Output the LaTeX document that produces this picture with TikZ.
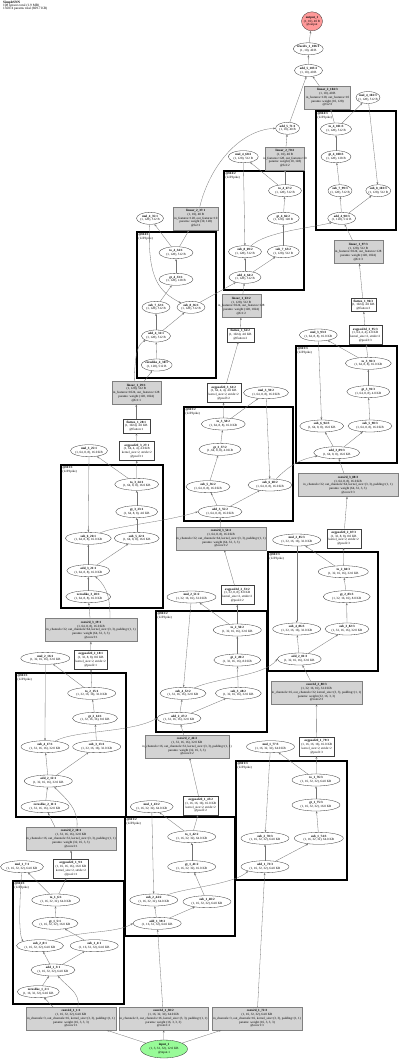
\documentclass[tikz,border=0pt]{standalone}
\usepackage{fontspec}
\setmainfont{Liberation Serif}
\usetikzlibrary{shapes.geometric,arrows.meta}
\definecolor{boxgray}{RGB}{211,211,211}
\definecolor{outred}{RGB}{255,153,153}
\definecolor{ingreen}{RGB}{152,251,152}
\newcommand\Z[1]{\makebox[0pt]{#1}}
\newcommand\nf{\fontsize{3.2}{3.8}\selectfont}
\newcommand\Sa{(1, 16, 32, 32), 64.0 KB}
\newcommand\Sab{(1, 16, 32, 32), 16.0 KB}
\newcommand\Sb{(1, 32, 16, 16), 32.0 KB}
\newcommand\Sbb{(1, 32, 16, 16), 8.0 KB}
\newcommand\Sc{(1, 64, 8, 8), 16.0 KB}
\newcommand\Scb{(1, 64, 8, 8), 4.0 KB}
\newcommand\Sd{(1, 128), 512 B}
\newcommand\Sdb{(1, 128), 128 B}
\newcommand\So{(1, 10), 40 B}
\newcommand\EN[6]{\node[ell,minimum width=#4pt] (#1) at (#2,#3) {\Z{\textbf{#5}}\\\Z{#6}};}
\newcommand\CL[5]{\draw[clus] (#1,#2) rectangle (#3,#4);
  \node[anchor=north west,font=\nf,align=left,inner sep=0pt] at (#1+1.5,#2+1.3) {\textbf{#5}\\(LIFSpike)};}
\newcommand\PB[6]{\node[wbox,minimum width=#4pt,minimum height=19pt] (#1) at (#2,#3) {\Z{\textbf{#5}}\\\Z{#6}\\\Z{kernel\_size=2, stride=2}\\\Z{@pool\csname pn#1\endcsname}};}
\newcommand\CB[9]{\node[gbox,minimum width=#4pt,minimum height=23pt] (#1) at (#2,#3) {\Z{\textbf{#5}}\\\Z{#6}\\\Z{#7}\\\Z{#8}\\\Z{#9}};}
\tikzset{
 ell/.style={ellipse, draw=black!80, line width=0.3pt, inner sep=0pt, minimum height=12pt, align=center, font=\nf},
 gbox/.style={rectangle, draw=black!50, line width=0.3pt, fill=boxgray, inner sep=0pt, align=center, font=\nf},
 wbox/.style={rectangle, draw=black!75, line width=0.3pt, inner sep=0pt, align=center, font=\nf},
 clus/.style={draw=black, line width=1.6pt},
 e/.style={draw=black!55, line width=0.3pt, -{Stealth[length=2.4pt,width=1.8pt]}},
}
\begin{document}
\begin{tikzpicture}[x=1pt,y=-1pt]
\useasboundingbox (0,0) rectangle (400,1061);
\fill[white] (0,0) rectangle (400,1061);
\node[anchor=north west,font=\fontsize{3.4}{3.2}\selectfont,align=left,inner sep=0pt] (hdr) at (3,1) {\textbf{SimpleSNN}\\108 tensors total (1.9 MB)\\156074 params total (609.7 KB)};
% clusters
\CL{316}{111}{396}{230}{@lif4:3}
\CL{224}{171}{304}{290}{@lif4:2}
\CL{137}{232}{216}{378}{@lif4:1}
\CL{296}{346}{397}{463}{@lif3:3}
\CL{184}{407}{293}{521}{@lif3:2}
\CL{61}{465}{163}{608}{@lif3:1}
\CL{268}{552}{378}{671}{@lif2:3}
\CL{156}{611}{267}{732}{@lif2:2}
\CL{16}{673}{126}{817}{@lif2:1}
\CL{236}{761}{347}{880}{@lif1:3}
\CL{125}{817}{235}{936}{@lif1:2}
\CL{13}{881}{124}{1004}{@lif1:1}
% input / output
\node[ell,fill=ingreen,minimum width=47pt,minimum height=18pt] (inp) at (164,1049) {\Z{\textbf{input\_1}}\\\Z{(1, 3, 32, 32), 12.0 KB}\\\Z{@input.1}};
\node[ell,fill=outred,minimum width=21pt,minimum height=19pt] (out) at (312,21.3) {\Z{\textbf{output\_1}}\\\Z{\So}\\\Z{@output}};
% ---- timestep 1
\CB{c11}{71}{1018.5}{90}{conv2d\_1\_1:1}{\Sa}{in\_channels=3, out\_channels=16, kernel\_size=(3, 3), padding=(1, 1)}{params: weight (16, 3, 3, 3)}{@conv1:1}
\CB{c138}{163.5}{1018.5}{89}{conv2d\_1\_38:2}{\Sa}{in\_channels=3, out\_channels=16, kernel\_size=(3, 3), padding=(1, 1)}{params: weight (16, 3, 3, 3)}{@conv1:2}
\CB{c172}{257}{1018.5}{90}{conv2d\_1\_72:3}{\Sa}{in\_channels=3, out\_channels=16, kernel\_size=(3, 3), padding=(1, 1)}{params: weight (16, 3, 3, 3)}{@conv1:3}
\EN{zl12}{38.3}{991.7}{42}{zeroslike\_1\_2:1}{\Sa}
\EN{a13}{53}{970}{44}{add\_1\_3:1}{\Sa}
\EN{s28}{40}{945.7}{47}{sub\_2\_8:1}{\Sa}
\EN{s14}{94.2}{945.7}{48}{sub\_1\_4:1}{\Sa}
\EN{g15}{55}{923.3}{46}{gt\_1\_5:1}{\Sab}
\EN{t16}{55.8}{900}{48}{to\_1\_6:1}{\Sa}
\EN{m17}{22}{866.7}{43}{mul\_1\_7:1}{\Sa}
\expandafter\def\csname pnp19\endcsname{1:1}
\PB{p19}{71}{868.7}{35}{avgpool2d\_1\_9:1}{(1, 16, 16, 16), 16.0 KB}
\CB{c210}{71}{838.7}{90}{conv2d\_2\_10:1}{\Sb}{in\_channels=16, out\_channels=32, kernel\_size=(3, 3), padding=(1, 1)}{params: weight (32, 16, 3, 3)}{@conv2:1}
\EN{zl211}{45}{806.7}{48}{zeroslike\_2\_11:1}{\Sb}
\EN{a212}{48.3}{781}{48}{add\_2\_12:1}{\Sb}
\EN{s417}{45}{746.7}{48}{sub\_4\_17:1}{\Sb}
\EN{s313}{96.7}{746.7}{48}{sub\_3\_13:1}{\Sb}
\EN{g214}{95}{718.3}{45}{gt\_2\_14:1}{\Sbb}
\EN{t215}{91.7}{693.3}{48}{to\_2\_15:1}{\Sb}
\EN{m216}{45.3}{658.3}{49}{mul\_2\_16:1}{\Sb}
\expandafter\def\csname pnp218\endcsname{2:1}
\PB{p218}{90.7}{659.7}{33}{avgpool2d\_2\_18:1}{(1, 32, 8, 8), 8.0 KB}
\CB{c319}{91}{630}{92}{conv2d\_3\_19:1}{\Sc}{in\_channels=32, out\_channels=64, kernel\_size=(3, 3), padding=(1, 1)}{params: weight (64, 32, 3, 3)}{@conv3:1}
\EN{zl320}{88.3}{596.7}{45}{zeroslike\_3\_20:1}{\Sc}
\EN{a321}{88.3}{570.7}{43}{add\_3\_21:1}{\Sc}
\EN{s626}{88.3}{538.3}{46}{sub\_6\_26:1}{\Sc}
\EN{s522}{136.7}{538.3}{45}{sub\_5\_22:1}{\Sc}
\EN{g323}{136.7}{511.7}{42}{gt\_3\_23:1}{\Scb}
\EN{t324}{136.7}{484.3}{44}{to\_3\_24:1}{\Sc}
\EN{m325}{89}{450.7}{37}{mul\_3\_25:1}{\Sc}
\expandafter\def\csname pnp327\endcsname{3:1}
\PB{p327}{136.8}{451}{35}{avgpool2d\_3\_27:1}{(1, 64, 4, 4), 4.0 KB}
\node[wbox,minimum width=27pt,minimum height=14pt] (f128) at (136.3,426) {\Z{\textbf{flatten\_1\_28:1}}\\\Z{(1, 1024), 4.0 KB}\\\Z{@flatten:1}};
\CB{l129}{136.3}{392.8}{49}{linear\_1\_29:1}{\Sd}{in\_features=1024, out\_features=128}{params: weight (128, 1024)}{@fc1:1}
\EN{zl430}{156.7}{365}{31}{zeroslike\_4\_30:1}{\Sd}
\EN{a431}{156}{336}{29}{add\_4\_31:1}{\Sd}
\EN{s732}{156}{307.3}{28}{sub\_7\_32:1}{\Sd}
\EN{s836}{191}{307.3}{28}{sub\_8\_36:1}{\Sd}
\EN{g433}{176}{279.3}{34}{gt\_4\_33:1}{\Sdb}
\EN{t434}{176}{252.7}{34}{to\_4\_34:1}{\Sd}
\EN{m435}{150}{218.3}{27}{mul\_4\_35:1}{\Sd}
\CB{l237}{195.8}{218.3}{45}{linear\_2\_37:1}{\So}{in\_features=128, out\_features=10}{params: weight (10, 128)}{@fc2:1}
% ---- timestep 2
\EN{a139}{157.2}{923.3}{48}{add\_1\_39:2}{\Sa}
\EN{s244}{153.8}{900}{48}{sub\_2\_44:2}{\Sa}
\EN{s140}{207}{901.7}{48}{sub\_1\_40:2}{\Sa}
\EN{g141}{191.7}{866.7}{48}{gt\_1\_41:2}{\Sab}
\EN{t142}{191.7}{836.7}{48}{to\_1\_42:2}{\Sa}
\EN{m143}{151.7}{806.7}{43}{mul\_1\_43:2}{\Sa}
\expandafter\def\csname pnp145\endcsname{1:2}
\PB{p145}{200.7}{805.5}{35}{avgpool2d\_1\_45:2}{(1, 16, 16, 16), 16.0 KB}
\CB{c246}{187}{746.5}{84}{conv2d\_2\_46:2}{\Sb}{in\_channels=16, out\_channels=32, kernel\_size=(3, 3), padding=(1, 1)}{params: weight (32, 16, 3, 3)}{@conv2:2}
\EN{a247}{179}{718.3}{44}{add\_2\_47:2}{\Sb}
\EN{s452}{183}{693.3}{46}{sub\_4\_52:2}{\Sb}
\EN{s348}{238.3}{693.3}{46}{sub\_3\_48:2}{\Sb}
\EN{g249}{237.3}{660}{47}{gt\_2\_49:2}{\Sbb}
\EN{t250}{237.3}{630}{48}{to\_2\_50:2}{\Sb}
\EN{m251}{191.5}{597}{49}{mul\_2\_51:2}{\Sb}
\expandafter\def\csname pnp253\endcsname{2:2}
\PB{p253}{237.3}{595}{33}{avgpool2d\_2\_53:2}{(1, 32, 8, 8), 8.0 KB}
\CB{c354}{221}{538.5}{90}{conv2d\_3\_54:2}{\Sc}{in\_channels=32, out\_channels=64, kernel\_size=(3, 3), padding=(1, 1)}{params: weight (64, 32, 3, 3)}{@conv3:2}
\EN{a355}{220}{511.7}{44}{add\_3\_55:2}{\Sc}
\EN{s556}{208}{486.7}{44}{sub\_5\_56:2}{\Sc}
\EN{s660}{270}{485}{44}{sub\_6\_60:2}{\Sc}
\EN{g357}{220}{449.3}{42}{gt\_3\_57:2}{\Scb}
\EN{t358}{223.3}{424}{44}{to\_3\_58:2}{\Sc}
\EN{m359}{266}{392.7}{45}{mul\_3\_59:2}{\Sc}
\expandafter\def\csname pnp361\endcsname{3:2}
\PB{p361}{223.7}{393}{34}{avgpool2d\_3\_61:2}{(1, 64, 4, 4), 4.0 KB}
\node[wbox,minimum width=27pt,minimum height=14pt] (f162) at (240.3,334.7) {\Z{\textbf{flatten\_1\_62:2}}\\\Z{(1, 1024), 4.0 KB}\\\Z{@flatten:2}};
\CB{l163}{241.3}{306}{39}{linear\_1\_63:2}{\Sd}{in\_features=1024, out\_features=128}{params: weight (128, 1024)}{@fc1:2}
\EN{a464}{245}{277.3}{32}{add\_4\_64:2}{\Sd}
\EN{s869}{245}{251.7}{33}{sub\_8\_69:2}{\Sd}
\EN{s765}{283.3}{251.7}{32}{sub\_7\_65:2}{\Sd}
\EN{g466}{283.3}{218.3}{32}{gt\_4\_66:2}{\Sdb}
\EN{t467}{285}{190.7}{33}{to\_4\_67:2}{\Sd}
\EN{m468}{243.3}{156.7}{30}{mul\_4\_68:2}{\Sd}
\CB{l270}{285}{158.3}{39}{linear\_2\_70:2}{\So}{in\_features=128, out\_features=10}{params: weight (10, 128)}{@fc2:2}
\EN{a571}{287.6}{128.3}{24}{add\_5\_71:1}{\So}
% ---- timestep 3
\EN{a173}{265}{866.7}{48}{add\_1\_73:3}{\Sa}
\EN{s278}{265}{838.3}{48}{sub\_2\_78:3}{\Sa}
\EN{s174}{318.8}{838.3}{49}{sub\_1\_74:3}{\Sa}
\EN{g175}{316}{805}{48}{gt\_1\_75:3}{\Sab}
\EN{t176}{316}{780}{48}{to\_1\_76:3}{\Sa}
\EN{m177}{270.5}{746.7}{48}{mul\_1\_77:3}{\Sa}
\expandafter\def\csname pnp179\endcsname{1:3}
\PB{p179}{316.7}{746.7}{35}{avgpool2d\_1\_79:3}{(1, 16, 16, 16), 16.0 KB}
\CB{c280}{316.5}{692.5}{91}{conv2d\_2\_80:3}{\Sb}{in\_channels=16, out\_channels=32, kernel\_size=(3, 3), padding=(1, 1)}{params: weight (32, 16, 3, 3)}{@conv2:3}
\EN{a281}{299.3}{659}{44}{add\_2\_81:3}{\Sb}
\EN{s486}{296.7}{629}{48}{sub\_4\_86:3}{\Sb}
\EN{s382}{347}{629}{44}{sub\_3\_82:3}{\Sb}
\EN{g283}{346.7}{596.7}{47}{gt\_2\_83:3}{\Sbb}
\EN{t284}{343.3}{571.7}{50}{to\_2\_84:3}{\Sb}
\EN{m285}{296.7}{540}{48}{mul\_2\_85:3}{\Sb}
\expandafter\def\csname pnp287\endcsname{2:3}
\PB{p287}{343.7}{538.3}{34}{avgpool2d\_2\_87:3}{(1, 32, 8, 8), 8.0 KB}
\CB{c388}{348}{485}{100}{conv2d\_3\_88:3}{\Sc}{in\_channels=32, out\_channels=64, kernel\_size=(3, 3), padding=(1, 1)}{params: weight (64, 32, 3, 3)}{@conv3:3}
\EN{a389}{336.7}{452.7}{46}{add\_3\_89:3}{\Sc}
\EN{s694}{321.7}{426}{44}{sub\_6\_94:3}{\Sc}
\EN{s590}{370}{426}{44}{sub\_5\_90:3}{\Sc}
\EN{g391}{368.3}{391.7}{43}{gt\_3\_91:3}{\Scb}
\EN{t392}{368.3}{363.3}{46}{to\_3\_92:3}{\Sc}
\EN{m393}{318.3}{335}{38}{mul\_3\_93:3}{\Sc}
\expandafter\def\csname pnp395\endcsname{3:3}
\PB{p395}{365.3}{335}{33}{avgpool2d\_3\_95:3}{(1, 64, 4, 4), 4.0 KB}
\node[wbox,minimum width=25pt,minimum height=13pt] (f196) at (363.3,305) {\Z{\textbf{flatten\_1\_96:3}}\\\Z{(1, 1024), 4.0 KB}\\\Z{@flatten:3}};
\CB{l197}{358.3}{252}{49}{linear\_1\_97:3}{\Sd}{in\_features=1024, out\_features=128}{params: weight (128, 1024)}{@fc1:3}
\EN{a498}{341.7}{218.3}{28}{add\_4\_98:3}{\Sd}
\EN{s799}{340}{190.7}{24}{sub\_7\_99:3}{\Sd}
\EN{s8103}{378.3}{190.7}{25}{sub\_8\_103:3}{\Sd}
\EN{g4100}{336}{156.7}{30}{gt\_4\_100:3}{\Sdb}
\EN{t4101}{336}{129}{31}{to\_4\_101:3}{\Sd}
\EN{m4102}{368}{97.5}{24}{mul\_4\_102:3}{\Sd}
\CB{l2104}{327.5}{97.5}{46}{linear\_2\_104:3}{\So}{in\_features=128, out\_features=10}{params: weight (10, 128)}{@fc2:3}
\EN{a5105}{308.5}{70.5}{28}{add\_5\_105:2}{\So}
\EN{td}{308.3}{48.8}{30}{truediv\_1\_106:1}{\So}
% ================= edges
\draw[e] (inp) -- (c11);
\draw[e] (inp) -- (c138);
\draw[e] (inp) -- (c172);
% t1
\draw[e] ([xshift=-18pt]c11.north) -- (zl12);
\draw[e] ([xshift=7pt]c11.north) to[out=80,in=-50] (a13);
\draw[e] (zl12) -- (a13);
\draw[e] (a13) -- (s28);
\draw[e] (a13) -- (s14);
\draw[e] (s14) -- (g15);
\draw[e] (g15) -- (t16);
\draw[e] (t16) -- (m17);
\draw[e] (t16) -- (p19);
\draw[e] (m17) .. controls (19,910) and (19,935) .. (s28.north west);
\draw[e] (s28) .. controls (80,930) and (115,934) .. (a139.west);
\draw[e] (p19) -- (c210);
\draw[e] ([xshift=-16pt]c210.north) -- (zl211);
\draw[e] ([xshift=6pt]c210.north) to[out=85,in=-45] (a212);
\draw[e] (zl211) -- (a212);
\draw[e] (a212) -- (s417);
\draw[e] (a212) -- (s313);
\draw[e] (s313) -- (g214);
\draw[e] (g214) -- (t215);
\draw[e] (t215) -- (m216);
\draw[e] (t215) -- (p218);
\draw[e] (m216) -- (s417);
\draw[e] (s417) .. controls (75,730) and (130,733) .. (a247.west);
\draw[e] (p218) -- (c319);
\draw[e] (c319) -- (zl320);
\draw[e] ([xshift=19pt]c319.north) to[out=90,in=-40] (a321);
\draw[e] (zl320) -- (a321);
\draw[e] (a321) -- (s626);
\draw[e] (a321) -- (s522);
\draw[e] (s522) -- (g323);
\draw[e] (g323) -- (t324);
\draw[e] (t324) -- (m325);
\draw[e] (t324) -- (p327);
\draw[e] (m325) -- (s626);
\draw[e] (s626) .. controls (115,526) and (165,522) .. (a355.west);
\draw[e] (p327) -- (f128);
\draw[e] (f128) -- (l129);
\draw[e] ([xshift=8pt]l129.north) -- (zl430);
\draw[e] ([xshift=-2pt]l129.north) .. controls (135,352) and (138,344) .. (a431.south west);
\draw[e] (zl430) -- (a431);
\draw[e] (a431) -- (s732);
\draw[e] (a431) -- (s836);
\draw[e] (s732) -- (g433);
\draw[e] (g433) -- (t434);
\draw[e] (t434) -- (m435);
\draw[e] (t434) -- (l237);
\draw[e] (m435) .. controls (147,280) and (160,292) .. (s836.north west);
\draw[e] (s836) -- (a464);
\draw[e] ([xshift=4pt]l237.north) .. controls (210,165) and (240,130) .. (a571.west);
% t2
\draw[e] (c138) -- (a139);
\draw[e] (a139) -- (s244);
\draw[e] (a139) -- (s140);
\draw[e] (s140) -- (g141);
\draw[e] (g141) -- (t142);
\draw[e] (t142) -- (m143);
\draw[e] (t142) -- (p145);
\draw[e] (m143) -- (s244);
\draw[e] (s244) .. controls (185,888) and (235,884) .. (a173.south west);
\draw[e] (p145) -- (c246);
\draw[e] (c246) -- (a247);
\draw[e] (a247) -- (s452);
\draw[e] (a247) -- (s348);
\draw[e] (s348) -- (g249);
\draw[e] (g249) -- (t250);
\draw[e] (t250) -- (m251);
\draw[e] (t250) -- (p253);
\draw[e] (m251) -- (s452);
\draw[e] (s452) .. controls (215,678) and (265,676) .. (a281.west);
\draw[e] (p253) -- (c354);
\draw[e] (c354) -- (a355);
\draw[e] (a355) -- (s556);
\draw[e] (a355) -- (s660);
\draw[e] (s556) -- (g357);
\draw[e] (g357) -- (t358);
\draw[e] (t358) -- (m359);
\draw[e] (t358) -- (p361);
\draw[e] (m359) -- (s660);
\draw[e] (s660) to[out=45,in=190] (a389);
\draw[e] (p361) -- (f162);
\draw[e] (f162) -- (l163);
\draw[e] (l163) -- (a464);
\draw[e] (a464) -- (s869);
\draw[e] (a464) -- (s765);
\draw[e] (s765) -- (g466);
\draw[e] (g466) -- (t467);
\draw[e] (t467) -- (m468);
\draw[e] (t467) -- (l270);
\draw[e] (m468) -- (s869);
\draw[e] (s869) .. controls (265,232) and (310,228) .. (a498.south west);
\draw[e] (l270) -- (a571);
\draw[e] (a571) -- (a5105);
% t3
\draw[e] (c172) -- (a173);
\draw[e] (a173) -- (s278);
\draw[e] (a173) -- (s174);
\draw[e] (s174) -- (g175);
\draw[e] (g175) -- (t176);
\draw[e] (t176) -- (m177);
\draw[e] (t176) -- (p179);
\draw[e] (m177) -- (s278);
\draw[e] (p179) -- (c280);
\draw[e] (c280) -- (a281);
\draw[e] (a281) -- (s486);
\draw[e] (a281) -- (s382);
\draw[e] (s382) -- (g283);
\draw[e] (g283) -- (t284);
\draw[e] (t284) -- (m285);
\draw[e] (t284) -- (p287);
\draw[e] (m285) -- (s486);
\draw[e] (p287) -- (c388);
\draw[e] (c388) -- (a389);
\draw[e] (a389) -- (s694);
\draw[e] (a389) -- (s590);
\draw[e] (s590) -- (g391);
\draw[e] (g391) -- (t392);
\draw[e] (t392) -- (m393);
\draw[e] (t392) -- (p395);
\draw[e] (m393) -- (s694);
\draw[e] (p395) -- (f196);
\draw[e] (f196) -- (l197);
\draw[e] (l197) -- (a498);
\draw[e] (a498) -- (s799);
\draw[e] (a498) -- (s8103);
\draw[e] (s799) -- (g4100);
\draw[e] (g4100) -- (t4101);
\draw[e] (t4101) -- (m4102);
\draw[e] (t4101) -- (l2104);
\draw[e] (m4102) -- (s8103);
\draw[e] (l2104) -- (a5105);
\draw[e] (a5105) -- (td);
\draw[e] (td) -- (out);
\end{tikzpicture}
\end{document}
